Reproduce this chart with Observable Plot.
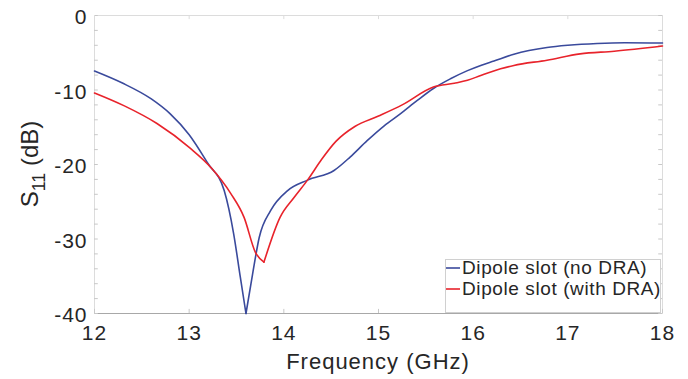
<!DOCTYPE html>
<html>
<head>
<meta charset="utf-8">
<script src="https://cdn.jsdelivr.net/npm/d3@7"></script>
<script src="https://cdn.jsdelivr.net/npm/@observablehq/plot@0.6"></script>
<style>
  html, body { margin: 0; padding: 0; background: #fff; }
  #chart { width: 688px; height: 379px; }
</style>
</head>
<body>
<div id="chart"></div>
<script>
// Frequency (GHz) and S11 (dB)
const freqNoDRA = [12.0, 12.3, 12.6, 12.8, 13.0, 13.2, 13.37, 13.47, 13.54, 13.6, 13.67, 13.74, 13.86, 14.04, 14.25, 14.53, 14.70, 14.88, 15.06, 15.23, 15.41, 15.58, 15.76, 15.94, 16.08, 16.22, 16.43, 16.78, 17.0, 17.31, 17.6, 18.0];
const s11NoDRA  = [-7.45, -9.1, -11.2, -13.2, -16.0, -19.9, -23.5, -29.3, -35.1, -40, -34.7, -29.8, -26.2, -23.5, -22.1, -20.8, -19.0, -16.8, -14.8, -13.2, -11.4, -9.8, -8.5, -7.4, -6.7, -6.1, -5.2, -4.3, -4.0, -3.75, -3.65, -3.7];

const freqDRA = [12.0, 12.31, 12.66, 13.01, 13.23, 13.44, 13.58, 13.70, 13.79, 13.96, 14.11, 14.25, 14.4, 14.55, 14.75, 15.0, 15.25, 15.58, 15.8, 15.94, 16.08, 16.29, 16.43, 16.78, 17.13, 17.49, 18.0];
const s11DRA  = [-10.4, -12.1, -14.5, -17.8, -20.4, -23.9, -27.1, -31.8, -33.1, -27.1, -24.4, -22.1, -19.3, -16.9, -14.9, -13.5, -12.0, -9.6, -9.1, -8.7, -8.05, -7.15, -6.7, -6.0, -5.15, -4.8, -4.1];

const seriesNames = ["Dipole slot (no DRA)", "Dipole slot (with DRA)"];
const seriesColors = ["#3a4a9c", "#e8232b"];

const xTicks = [12, 13, 14, 15, 16, 17, 18];
const yTicks = [0, -10, -20, -30, -40];
const yMinorTicks = d3.range(0, -41, -2);

// split each series at its minimum so the resonance dip keeps its sharp tip
function toRows(fs, ss, name) {
  const iMin = d3.minIndex(ss);
  const rows = [];
  fs.forEach((f, i) => {
    if (i <= iMin) rows.push({f, s: ss[i], seg: name + "a"});
    if (i >= iMin) rows.push({f, s: ss[i], seg: name + "b"});
  });
  return rows;
}
const noDRA = toRows(freqNoDRA, s11NoDRA, "n");
const withDRA = toRows(freqDRA, s11DRA, "w");

const W = 688, H = 379;
const mL = 94, mR = 26, mT = 15, mB = 66;
const font = "'Liberation Sans', Arial, Helvetica, sans-serif";
const txt = "#262626";

const plot = Plot.plot({
  width: W, height: H,
  marginLeft: mL, marginRight: mR, marginTop: mT, marginBottom: mB,
  style: {fontFamily: font, fontSize: "21px", color: txt, background: "#fff", overflow: "visible"},
  x: {domain: [12, 18]},
  y: {domain: [-40, 0]},
  marks: [
    Plot.frame({stroke: "#dcdcdc"}),
    Plot.ruleY([-40], {stroke: "#a8a8a8"}),
    Plot.gridY(yMinorTicks, {x1: 12, x2: 12.04, stroke: "#c8c8c8", strokeOpacity: 1}),
    Plot.gridY(yMinorTicks, {x1: 17.96, x2: 18, stroke: "#c8c8c8", strokeOpacity: 1}),
    Plot.gridX(xTicks, {y1: -40, y2: -39.45, stroke: "#c8c8c8", strokeOpacity: 1}),
    Plot.gridX(xTicks, {y1: 0, y2: -0.55, stroke: "#dcdcdc", strokeOpacity: 1}),
    Plot.axisX({ticks: xTicks, tickSize: 0, tickPadding: 12, label: null, fontSize: 21, tickFormat: d => String(d)}),
    Plot.axisY({ticks: yTicks, tickSize: 0, tickPadding: 7, label: null, fontSize: 21, dy: 2, tickFormat: d => String(d)}),
    Plot.line(noDRA, {x: "f", y: "s", z: "seg", stroke: seriesColors[0], strokeWidth: 1.6, curve: "monotone-x"}),
    Plot.line(withDRA, {x: "f", y: "s", z: "seg", stroke: seriesColors[1], strokeWidth: 1.6, curve: "monotone-x"})
  ]
});

document.getElementById("chart").appendChild(plot);

const svg = d3.select(plot);
svg.selectAll("text").style("letter-spacing", "1px");

// x axis label
svg.append("text")
  .attr("x", (mL + W - mR) / 2).attr("y", 369)
  .attr("text-anchor", "middle")
  .attr("font-family", font).attr("font-size", 22)
  .attr("letter-spacing", "1px")
  .attr("fill", txt)
  .text("Frequency (GHz)");

// y axis label with subscript
const yl = svg.append("text")
  .attr("transform", `translate(38,${(mT + H - mB) / 2}) rotate(-90)`)
  .attr("text-anchor", "middle")
  .attr("font-family", font).attr("font-size", 24)
  .attr("fill", txt);
yl.append("tspan").text("S");
yl.append("tspan").attr("font-size", 18).attr("dy", 7).text("11");
yl.append("tspan").attr("dy", -7).text(" (dB)");

// legend
const lg = svg.append("g");
lg.append("rect")
  .attr("x", 445.5).attr("y", 259.5).attr("width", 215).attr("height", 53)
  .attr("fill", "#fff").attr("stroke", "#d0d0d0");
seriesNames.forEach((name, i) => {
  const yy = 268 + i * 21;
  lg.append("line")
    .attr("x1", 446).attr("x2", 460).attr("y1", yy).attr("y2", yy)
    .attr("stroke", seriesColors[i]).attr("stroke-width", 1.6);
  lg.append("text")
    .attr("x", 462).attr("y", yy + 6)
    .attr("text-anchor", "start")
    .attr("font-family", font).attr("font-size", 19)
    .attr("letter-spacing", "0.6px")
    .attr("fill", txt)
    .text(name);
});
</script>
</body>
</html>
